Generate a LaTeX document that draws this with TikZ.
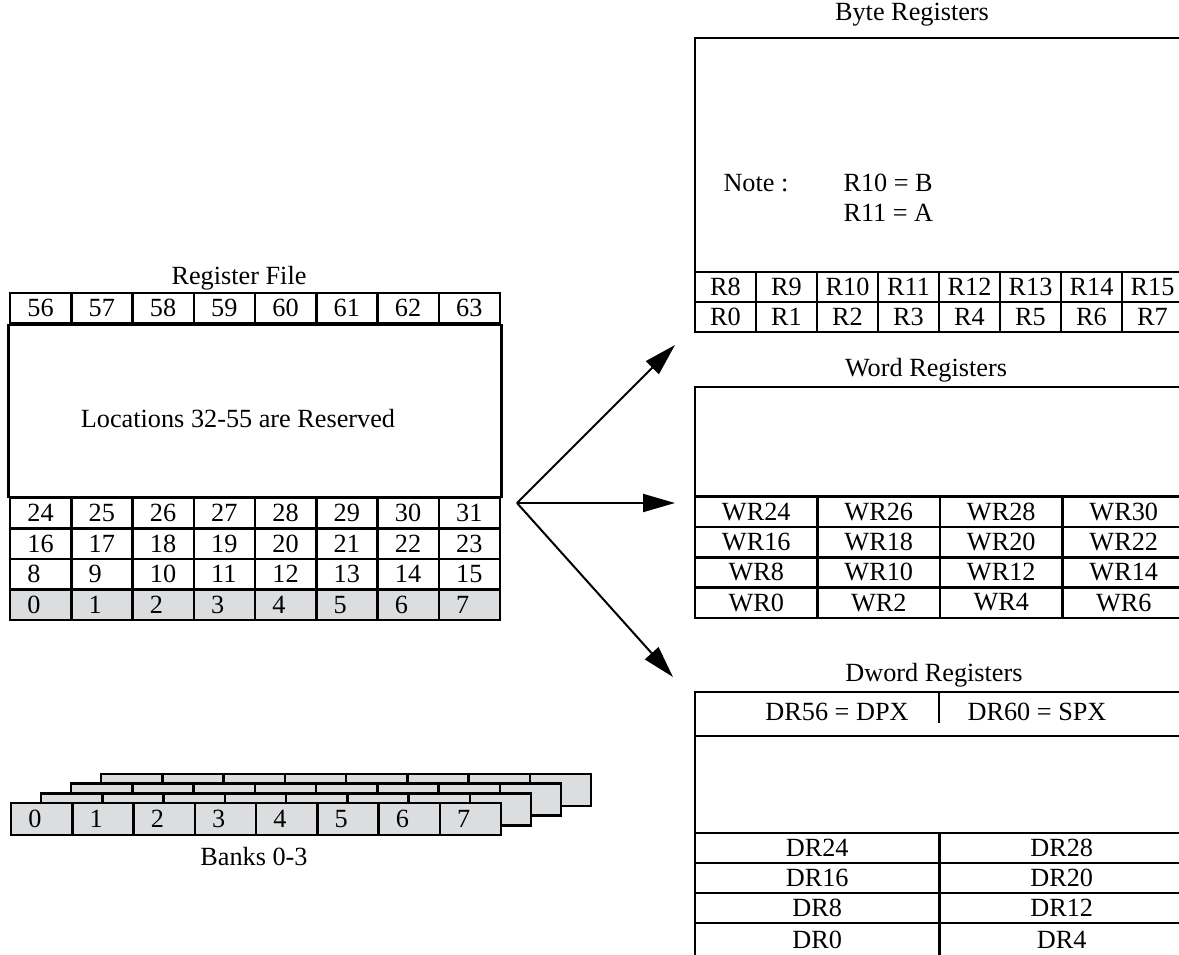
\documentclass[tikz,border=0pt]{standalone}
\usepackage{fontspec}
\setmainfont{Liberation Serif}
\usetikzlibrary{positioning,arrows.meta}
\definecolor{bankgray}{RGB}{220,221,223}

\begin{document}
\begin{tikzpicture}[
  x=0.4pt, y=-0.4pt,
  font=\fontsize{10.5pt}{12pt}\selectfont,
  cell/.style={draw, line width=1pt, inner sep=0pt, minimum height=12.2pt},
  numcell/.style={cell, minimum width=24.5pt, text width=10.6pt, align=left},
  bytecell/.style={cell, minimum width=24.4pt, minimum height=12pt},
  wordcell/.style={cell, minimum width=49pt},
  dwordcell/.style={cell, minimum width=97.8pt, minimum height=12pt},
  bankcell/.style={cell, fill=bankgray, minimum width=24.5pt, minimum height=12.8pt},
  frame/.style={draw, line width=1pt},
  title/.style={inner sep=1pt},
  arrow/.style={-{Triangle[length=12.8pt, width=7.2pt]}, line width=0.8pt}
]
  \useasboundingbox (0,0) rectangle (1179,954);
  \clip (0,0) rectangle (1179,954);

  % register file
  \node[title] (rftitle) at (239,278) {Register File};
  \foreach \first/\yc in {56/308.25, 24/513.25, 16/543.75, 8/574.25}
    \foreach \i in {0,...,7} {
      \pgfmathtruncatemacro\n{\first+\i}
      \node[numcell] (rf-\n) at ({10+61.25*(\i+0.5)}, \yc) {\n};
    }
  \foreach \i in {0,...,7}
    \node[numcell, fill=bankgray] (rf-\i) at ({10+61.25*(\i+0.5)}, 604.75) {\i};
  \draw[frame] (rf-56.south west) rectangle (rf-31.north east);
  \node (reserved) at (238,419) {Locations 32-55 are Reserved};

  % banks 0-3, back to front
  \foreach \k in {3,2,1}
    \foreach \i in {0,...,7}
      \node[bankcell] (bank\k-\i) at ({11+30*\k+61.25*(\i+0.5)}, {819-9.7*\k}) {};
  \foreach \i in {0,...,7}
    \node[bankcell, numcell, minimum height=12.8pt] (bank0-\i) at ({11+61.25*(\i+0.5)}, 819) {\i};
  \node[title] (banks) at (254,857) {Banks 0-3};

  % byte registers
  \node[title] (bytetitle) at (912,15) {Byte Registers};
  \draw[frame] (695,38) rectangle (1184,332);
  \foreach \first/\yc in {8/287, 0/317}
    \foreach \i in {0,...,7} {
      \pgfmathtruncatemacro\n{\first+\i}
      \node[bytecell] (byte-\n) at ({695+61*(\i+0.5)}, \yc) {R\n};
    }
  \node[anchor=west, inner sep=0pt] (note) at (723,183) {Note :};
  \node[anchor=west, inner sep=0pt] (noteb) at (843,183) {R10 = B};
  \node[anchor=west, inner sep=0pt] (notea) at (843,213) {R11 = A};

  % word registers
  \node[title] (wordtitle) at (926,370) {Word Registers};
  \draw[frame] (695,387) rectangle (1185,618);
  \foreach \first/\yc in {24/511.5, 16/542, 8/572, 0/602.5}
    \foreach \i in {0,...,3} {
      \pgfmathtruncatemacro\n{\first+2*\i}
      \node[wordcell] (word-\n) at ({695+122.5*(\i+0.5)}, \yc) {WR\n};
    }

  % dword registers
  \node[title] (dwordtitle) at (934,675) {Dword Registers};
  \draw[frame] (695,692) rectangle (1184,967);
  \draw[frame] (695,736) -- (1184,736);
  \draw[frame] (939,692) -- (939,723);
  \node (dpx) at (837,712) {DR56 = DPX};
  \node (spx) at (1037,712) {DR60 = SPX};
  \foreach \first/\yc in {24/848, 16/878, 8/908}
    \foreach \i in {0,1} {
      \pgfmathtruncatemacro\n{\first+4*\i}
      \node[dwordcell] (dword-\n) at ({695+244.5*(\i+0.5)}, \yc) {DR\n};
    }
  \foreach \i in {0,1} {
    \pgfmathtruncatemacro\n{4*\i}
    \node[dwordcell, minimum height=13.6pt] (dword-\n) at ({695+244.5*(\i+0.5)}, 940) {DR\n};
  }

  % fan-out arrows
  \coordinate (fork) at (517,503);
  \coordinate (tobyte) at (675,345);
  \coordinate (toword) at (675,503);
  \coordinate (todword) at (673,677);
  \draw[arrow] (fork) -- (tobyte);
  \draw[arrow] (fork) -- (toword);
  \draw[arrow] (fork) -- (todword);
\end{tikzpicture}
\end{document}
